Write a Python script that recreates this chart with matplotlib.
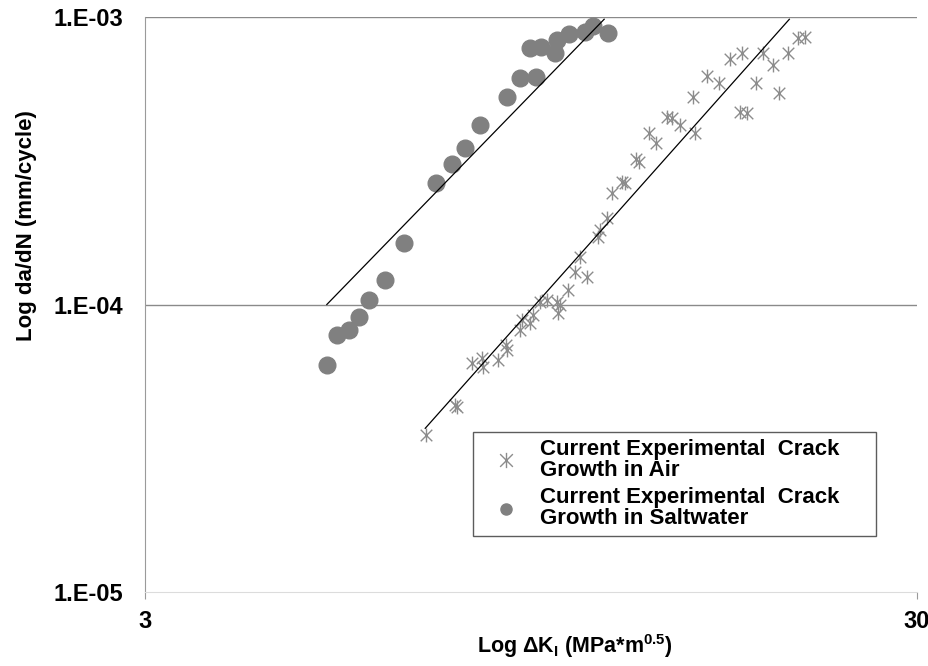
import matplotlib.pyplot as plt
from matplotlib.path import Path

# crack growth rate data (dK in MPa*m^0.5, da/dN in mm/cycle)
air_dk = [6.94, 7.56, 7.60, 7.95, 8.19, 8.23, 8.60, 8.82, 8.80, 9.18,
          9.23, 9.46, 9.55, 9.75, 9.94, 10.24, 10.29, 10.34, 10.60, 10.82,
          10.98, 11.22, 11.60, 11.66, 11.91, 12.07, 12.43, 12.56, 12.97, 13.10,
          13.50, 13.77, 14.22, 14.43, 14.80, 15.47, 15.39, 16.02, 16.63, 17.18,
          17.78, 17.70, 18.09, 18.56, 18.97, 19.54, 19.89, 20.44, 21.06, 21.48]
air_dadn = [3.52e-5, 4.47e-5, 4.40e-5, 6.24e-5, 6.50e-5, 6.07e-5, 6.41e-5, 6.95e-5, 7.23e-5, 8.15e-5,
            8.83e-5, 8.60e-5, 9.19e-5, 1.023e-4, 1.037e-4, 1.023e-4, 9.32e-5, 9.96e-5, 1.123e-4, 1.30e-4,
            1.466e-4, 1.249e-4, 1.721e-4, 1.816e-4, 1.995e-4, 2.436e-4, 2.674e-4, 2.64e-4, 3.20e-4, 3.14e-4,
            3.94e-4, 3.64e-4, 4.50e-4, 4.44e-4, 4.21e-4, 3.96e-4, 5.28e-4, 6.23e-4, 5.91e-4, 7.12e-4,
            7.48e-4, 4.68e-4, 4.62e-4, 5.88e-4, 7.48e-4, 6.81e-4, 5.43e-4, 7.48e-4, 8.43e-4, 8.54e-4]

salt_dk = [5.16, 5.32, 5.51, 5.68, 5.86, 6.14, 6.49, 7.15, 7.49, 7.80, 8.15,
           8.84, 9.18, 9.63, 9.46, 9.77, 10.20, 10.26, 10.63, 11.15, 11.42, 11.95]
salt_dadn = [6.16e-5, 7.83e-5, 8.15e-5, 9.07e-5, 1.037e-4, 1.217e-4, 1.641e-4, 2.653e-4, 3.074e-4, 3.51e-4, 4.20e-4,
             5.27e-4, 6.12e-4, 6.17e-4, 7.78e-4, 7.85e-4, 7.48e-4, 8.32e-4, 8.73e-4, 8.89e-4, 9.30e-4, 8.82e-4]

# power law trend lines (end points)
air_fit_dk = [6.92, 20.5]
air_fit_dadn = [3.71e-5, 9.82e-4]
salt_fit_dk = [5.16, 11.8]
salt_fit_dadn = [1.0e-4, 9.82e-4]

y_ticks = [1e-5, 1e-4, 1e-3]
y_tick_labels = ['1.E-05', '1.E-04', '1.E-03']
x_ticks = [3, 30]
x_tick_labels = ['3', '30']

plt.rcParams['mathtext.fontset'] = 'custom'
plt.rcParams['mathtext.rm'] = 'Liberation Sans:bold'
plt.rcParams['mathtext.default'] = 'rm'

font = 'Liberation Sans'

# excel style star: an x with a vertical bar through it
star = Path([(-1, -1), (1, 1), (-1, 1), (1, -1), (0, -1.2), (0, 1.2)],
            [Path.MOVETO, Path.LINETO, Path.MOVETO, Path.LINETO, Path.MOVETO, Path.LINETO])

fig = plt.figure(figsize=(9.29, 6.66), dpi=100)
ax = fig.add_axes([145 / 929, 74 / 666, 772 / 929, 575 / 666])
ax.set_xscale('log')
ax.set_yscale('log')
ax.set_xlim(3, 30)
ax.set_ylim(1e-5, 1e-3)

for yv in y_ticks[1:]:
    ax.axhline(yv, color='#8a8a8a', lw=1, zorder=1)

air, = ax.plot(air_dk, air_dadn, linestyle='none', marker=star, markersize=10,
               markeredgecolor='#8c8c8c', markerfacecolor='none', markeredgewidth=1,
               label='Current Experimental  Crack\nGrowth in Air', zorder=3)
salt, = ax.plot(salt_dk, salt_dadn, linestyle='none', marker='o', markersize=12,
                markerfacecolor='#808080', markeredgecolor='#808080',
                label='Current Experimental  Crack\nGrowth in Saltwater', zorder=3)
ax.plot(air_fit_dk, air_fit_dadn, color='black', lw=0.9, zorder=4)
ax.plot(salt_fit_dk, salt_fit_dadn, color='black', lw=0.9, zorder=4)

ax.spines['top'].set_visible(False)
ax.spines['right'].set_visible(False)
ax.spines['left'].set_color('#9a9a9a')
ax.spines['bottom'].set_color('#dcdcdc')

ax.xaxis.set_major_locator(plt.FixedLocator(x_ticks))
ax.xaxis.set_major_formatter(plt.FixedFormatter(x_tick_labels))
ax.xaxis.set_minor_locator(plt.NullLocator())
ax.yaxis.set_major_locator(plt.FixedLocator(y_ticks))
ax.yaxis.set_major_formatter(plt.FixedFormatter(y_tick_labels))
ax.yaxis.set_minor_locator(plt.NullLocator())

ax.tick_params(axis='y', length=0, pad=16)
ax.tick_params(axis='x', length=5, color='#9a9a9a', pad=8)
for lbl in ax.get_yticklabels() + ax.get_xticklabels():
    lbl.set_fontfamily(font)
    lbl.set_fontweight('bold')
    lbl.set_fontsize(17)

ax.set_xlabel('Log ΔK$_{I}$ (MPa*m$^{0.5}$)', family=font, fontweight='bold', fontsize=15.5)
ax.set_ylabel('Log da/dN (mm/cycle)', family=font, fontweight='bold', fontsize=16)
ax.xaxis.set_label_coords(0.557, -0.070)
ax.yaxis.set_label_coords(-0.140, 0.637)

leg = fig.legend(handles=[air, salt], loc='upper left',
                 bbox_to_anchor=(473 / 929, 1 - 538 / 666, 403 / 929, 106 / 666), mode='expand',
                 borderaxespad=0, fancybox=False, frameon=True, edgecolor='#333333',
                 fontsize=16, handlelength=2.4, handletextpad=0.3, labelspacing=0.3,
                 borderpad=0.3)
leg.get_frame().set_linewidth(1)
leg.legend_handles[0].set_markersize(11)
leg.legend_handles[1].set_markersize(8)
for t in leg.get_texts():
    t.set_fontfamily(font)
    t.set_fontweight('bold')
    t.set_linespacing(1.0)

fig.savefig('out.png', dpi=100)
